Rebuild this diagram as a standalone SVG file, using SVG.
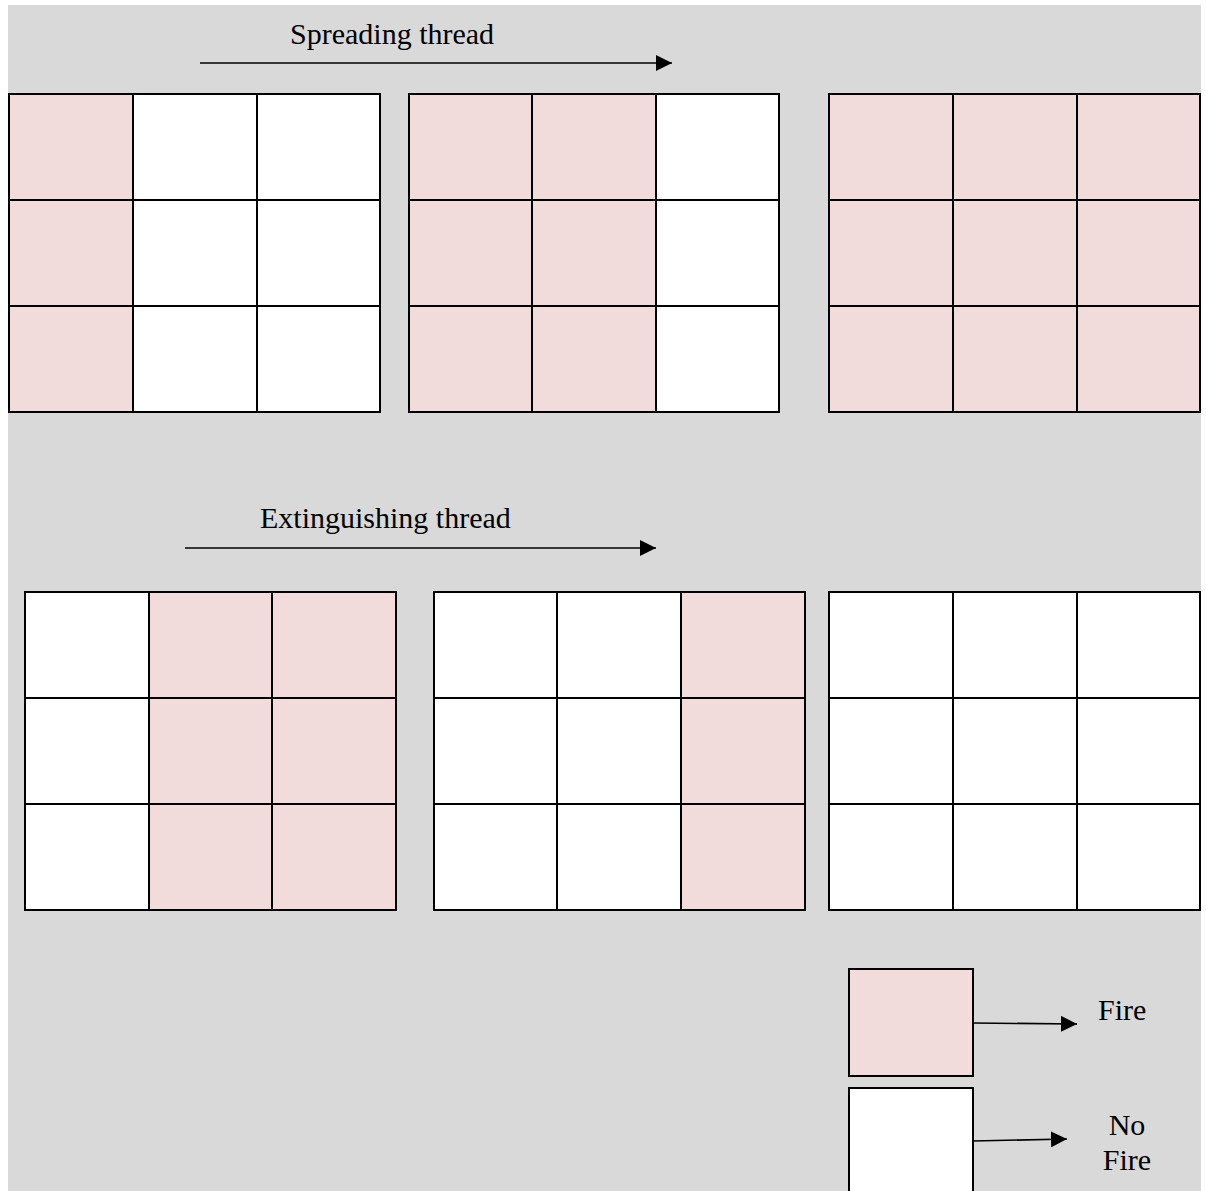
<svg xmlns="http://www.w3.org/2000/svg" width="1206" height="1191" viewBox="0 0 1206 1191">
<style>
.f{fill:#F2DCDB;stroke:#000;stroke-width:2}
.w{fill:#FFFFFF;stroke:#000;stroke-width:2}
.t{font-family:"Liberation Serif","Times New Roman",serif;font-size:30px;fill:#000}
.c{stroke:#000;stroke-width:1.6;fill:none}
</style>
<defs>
<marker id="ah" viewBox="0 0 16 16" refX="16" refY="8" markerWidth="16" markerHeight="16" markerUnits="userSpaceOnUse" orient="auto">
<path d="M0,0 L16,8 L0,16 Z" fill="#000"/>
</marker>
</defs>
<rect x="0" y="0" width="1206" height="1191" fill="#FFFFFF"/>
<rect x="8" y="5" width="1193" height="1186" fill="#D9D9D9"/>

<g id="label-spreading"><text class="t" x="290" y="44">Spreading thread</text></g>
<g id="label-extinguishing"><text class="t" x="260" y="528">Extinguishing thread</text></g>

<g id="grid1">
<rect class="f" x="9" y="94" width="124" height="106"/><rect class="w" x="133" y="94" width="124" height="106"/><rect class="w" x="257" y="94" width="123" height="106"/>
<rect class="f" x="9" y="200" width="124" height="106"/><rect class="w" x="133" y="200" width="124" height="106"/><rect class="w" x="257" y="200" width="123" height="106"/>
<rect class="f" x="9" y="306" width="124" height="106"/><rect class="w" x="133" y="306" width="124" height="106"/><rect class="w" x="257" y="306" width="123" height="106"/>
</g>
<g id="grid2">
<rect class="f" x="409" y="94" width="123" height="106"/><rect class="f" x="532" y="94" width="124" height="106"/><rect class="w" x="656" y="94" width="123" height="106"/>
<rect class="f" x="409" y="200" width="123" height="106"/><rect class="f" x="532" y="200" width="124" height="106"/><rect class="w" x="656" y="200" width="123" height="106"/>
<rect class="f" x="409" y="306" width="123" height="106"/><rect class="f" x="532" y="306" width="124" height="106"/><rect class="w" x="656" y="306" width="123" height="106"/>
</g>
<g id="grid3">
<rect class="f" x="829" y="94" width="124" height="106"/><rect class="f" x="953" y="94" width="124" height="106"/><rect class="f" x="1077" y="94" width="123" height="106"/>
<rect class="f" x="829" y="200" width="124" height="106"/><rect class="f" x="953" y="200" width="124" height="106"/><rect class="f" x="1077" y="200" width="123" height="106"/>
<rect class="f" x="829" y="306" width="124" height="106"/><rect class="f" x="953" y="306" width="124" height="106"/><rect class="f" x="1077" y="306" width="123" height="106"/>
</g>
<g id="grid4">
<rect class="w" x="25" y="592" width="124" height="106"/><rect class="f" x="149" y="592" width="123" height="106"/><rect class="f" x="272" y="592" width="124" height="106"/>
<rect class="w" x="25" y="698" width="124" height="106"/><rect class="f" x="149" y="698" width="123" height="106"/><rect class="f" x="272" y="698" width="124" height="106"/>
<rect class="w" x="25" y="804" width="124" height="106"/><rect class="f" x="149" y="804" width="123" height="106"/><rect class="f" x="272" y="804" width="124" height="106"/>
</g>
<g id="grid5">
<rect class="w" x="434" y="592" width="123" height="106"/><rect class="w" x="557" y="592" width="124" height="106"/><rect class="f" x="681" y="592" width="124" height="106"/>
<rect class="w" x="434" y="698" width="123" height="106"/><rect class="w" x="557" y="698" width="124" height="106"/><rect class="f" x="681" y="698" width="124" height="106"/>
<rect class="w" x="434" y="804" width="123" height="106"/><rect class="w" x="557" y="804" width="124" height="106"/><rect class="f" x="681" y="804" width="124" height="106"/>
</g>
<g id="grid6">
<rect class="w" x="829" y="592" width="124" height="106"/><rect class="w" x="953" y="592" width="124" height="106"/><rect class="w" x="1077" y="592" width="123" height="106"/>
<rect class="w" x="829" y="698" width="124" height="106"/><rect class="w" x="953" y="698" width="124" height="106"/><rect class="w" x="1077" y="698" width="123" height="106"/>
<rect class="w" x="829" y="804" width="124" height="106"/><rect class="w" x="953" y="804" width="124" height="106"/><rect class="w" x="1077" y="804" width="123" height="106"/>
</g>

<g id="legend-fire">
<rect class="f" x="849" y="969" width="124" height="107"/>
<text class="t" x="1098" y="1020">Fire</text>
</g>
<g id="legend-nofire">
<rect class="w" x="849" y="1088" width="124" height="110"/>
<text class="t" x="1127" y="1135" text-anchor="middle">No</text>
<text class="t" x="1127" y="1170" text-anchor="middle">Fire</text>
</g>

<g id="connectors">
<line class="c" x1="200" y1="63" x2="672" y2="63" marker-end="url(#ah)"/>
<line class="c" x1="185" y1="548" x2="656" y2="548" marker-end="url(#ah)"/>
<line class="c" x1="973" y1="1023" x2="1077" y2="1024" marker-end="url(#ah)"/>
<line class="c" x1="973" y1="1141" x2="1067" y2="1139" marker-end="url(#ah)"/>
</g>
</svg>
